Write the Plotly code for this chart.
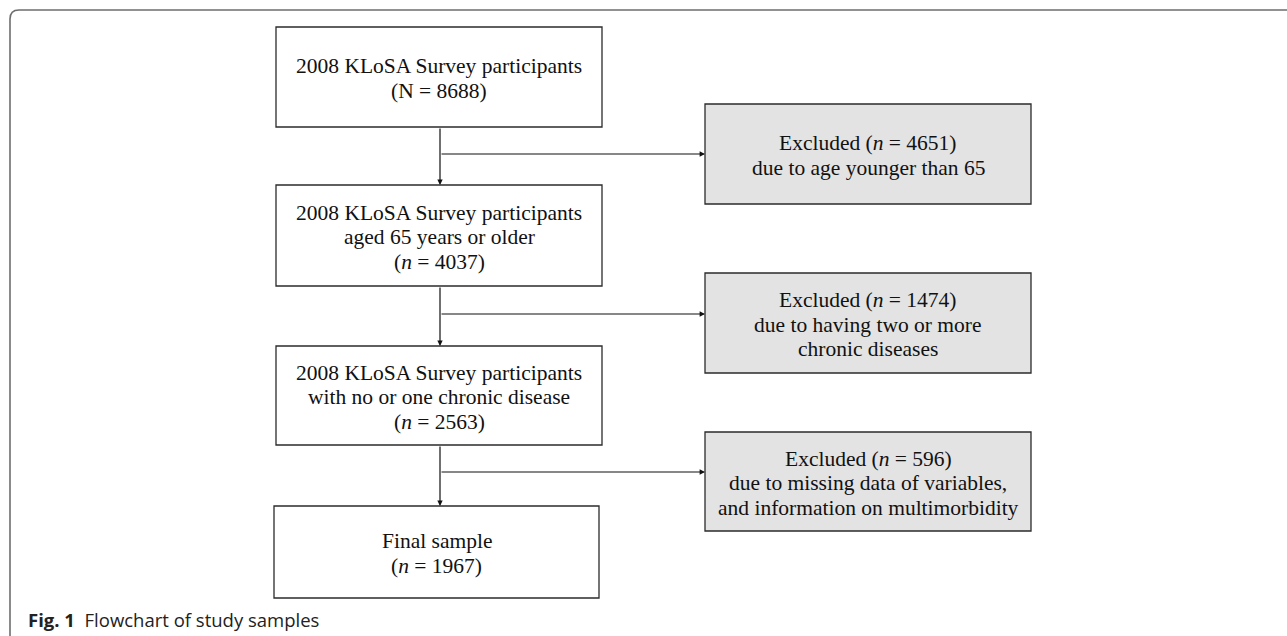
import plotly.graph_objects as go

# ---- data ----
main_titles = [
    "2008 KLoSA Survey participants",
    "2008 KLoSA Survey participants<br>aged 65 years or older",
    "2008 KLoSA Survey participants<br>with no or one chronic disease",
    "Final sample",
]
main_n_labels = ["N", "<i>n</i>", "<i>n</i>", "<i>n</i>"]
main_counts = [8688, 4037, 2563, 1967]

excluded_counts = [4651, 1474, 596]
excluded_reasons = [
    "due to age younger than 65",
    "due to having two or more<br>chronic diseases",
    "due to missing data of variables,<br>and information on multimorbidity",
]
caption_bold = "Fig. 1"
caption_text = "Flowchart of study samples"

# ---- layout geometry (pixels) ----
W, H = 1287, 636
main_boxes = [(276, 602, 27, 127), (276, 602, 185, 286), (276, 602, 346, 445), (274, 599, 506, 598)]
excl_boxes = [(705, 1031, 104, 204), (705, 1031, 273, 373), (705, 1031, 432, 531)]
branch_y = [154, 314, 472]
stem_x = 440
LINE_H = 24.5
FONT_SIZE = 21.5

serif = "Liberation Serif"
fig = go.Figure()
shapes = []
annotations = []


def add_lines(lines, cx, cy):
    n = len(lines)
    for k, ln in enumerate(lines):
        y = cy + 1.5 + (k - (n - 1) / 2) * LINE_H
        annotations.append(dict(x=cx, y=y, xref="x", yref="y", text=ln, showarrow=False,
                                xanchor="center", yanchor="middle",
                                font=dict(family=serif, size=FONT_SIZE, color="#111")))


# frame
shapes.append(dict(type="path", xref="x", yref="y",
                   path=f"M 10 {H+2} L 10 19 Q 10 10 19 10 L {W+2} 10",
                   line=dict(color="#6e6e6e", width=1.6)))

for i, (x0, x1, y0, y1) in enumerate(main_boxes):
    shapes.append(dict(type="rect", xref="x", yref="y", x0=x0, x1=x1, y0=y0, y1=y1,
                       line=dict(color="#2b2b2b", width=1.3), fillcolor="white"))
    lines = main_titles[i].split("<br>") + [f"({main_n_labels[i]} = {main_counts[i]})"]
    add_lines(lines, (x0 + x1) / 2, (y0 + y1) / 2)

for i, (x0, x1, y0, y1) in enumerate(excl_boxes):
    shapes.append(dict(type="rect", xref="x", yref="y", x0=x0, x1=x1, y0=y0, y1=y1,
                       line=dict(color="#2b2b2b", width=1.3), fillcolor="#e3e3e3"))
    lines = [f"Excluded (<i>n</i> = {excluded_counts[i]})"] + excluded_reasons[i].split("<br>")
    add_lines(lines, (x0 + x1) / 2, (y0 + y1) / 2)

# connectors
for i in range(3):
    top = main_boxes[i][3]
    bot = main_boxes[i + 1][2]
    by = branch_y[i]
    annotations.append(dict(x=stem_x, y=bot, ax=stem_x, ay=top, xref="x", yref="y",
                            axref="x", ayref="y", text="", showarrow=True,
                            arrowhead=2, arrowsize=0.9, arrowwidth=1.2, arrowcolor="#111"))
    annotations.append(dict(x=excl_boxes[i][0], y=by, ax=stem_x, ay=by, xref="x", yref="y",
                            axref="x", ayref="y", text="", showarrow=True,
                            arrowhead=2, arrowsize=0.9, arrowwidth=1.2, arrowcolor="#111"))

# caption
annotations.append(dict(x=26, y=619, xref="x", yref="y", xanchor="left", yanchor="middle",
                        text=f"<b>{caption_bold}</b>  {caption_text}", showarrow=False,
                        font=dict(family="Open Sans", size=18.5, color="#222")))

fig.update_layout(
    width=W, height=H, margin=dict(l=0, r=0, t=0, b=0),
    paper_bgcolor="white", plot_bgcolor="white",
    xaxis=dict(range=[0, W], visible=False, fixedrange=True),
    yaxis=dict(range=[H, 0], visible=False, fixedrange=True),
    shapes=shapes, annotations=annotations, showlegend=False,
)
fig.write_html("out.html", config={"displayModeBar": False},
               post_script="document.body.style.margin='0';")
